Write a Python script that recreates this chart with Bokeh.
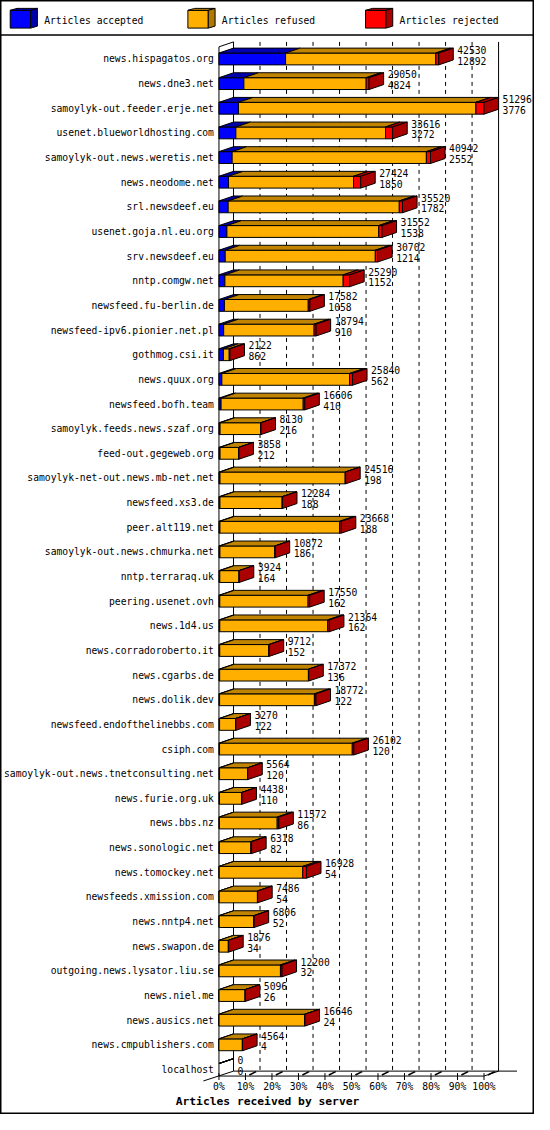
from bokeh.plotting import figure
from bokeh.models import Range1d, Span
from bokeh.embed import file_html
from bokeh.resources import INLINE
from bokeh.core.properties import value

# ---- data -------------------------------------------------------------
servers = [
    "news.hispagatos.org", "news.dne3.net", "samoylyk-out.feeder.erje.net",
    "usenet.blueworldhosting.com", "samoylyk-out.news.weretis.net", "news.neodome.net",
    "srl.newsdeef.eu", "usenet.goja.nl.eu.org", "srv.newsdeef.eu", "nntp.comgw.net",
    "newsfeed.fu-berlin.de", "newsfeed-ipv6.pionier.net.pl", "gothmog.csi.it",
    "news.quux.org", "newsfeed.bofh.team", "samoylyk.feeds.news.szaf.org",
    "feed-out.gegeweb.org", "samoylyk-net-out.news.mb-net.net", "newsfeed.xs3.de",
    "peer.alt119.net", "samoylyk-out.news.chmurka.net", "nntp.terraraq.uk",
    "peering.usenet.ovh", "news.1d4.us", "news.corradoroberto.it", "news.cgarbs.de",
    "news.dolik.dev", "newsfeed.endofthelinebbs.com", "csiph.com",
    "samoylyk-out.news.tnetconsulting.net", "news.furie.org.uk", "news.bbs.nz",
    "news.sonologic.net", "news.tomockey.net", "newsfeeds.xmission.com",
    "news.nntp4.net", "news.swapon.de", "outgoing.news.lysator.liu.se",
    "news.niel.me", "news.ausics.net", "news.cmpublishers.com", "localhost",
]
total = [42530, 29050, 51296, 33616, 40942, 27424, 35520, 31552, 30702, 25290,
         17582, 18794, 2122, 25840, 16606, 8130, 3858, 24516, 12284, 23668,
         10872, 3924, 17550, 21364, 9712, 17372, 18772, 3270, 26102, 5564,
         4438, 11572, 6318, 16928, 7486, 6806, 1876, 12200, 5096, 16646,
         4564, 0]
accepted = [12892, 4824, 3776, 3272, 2552, 1850, 1782, 1538, 1214, 1152,
            1058, 910, 862, 562, 410, 216, 212, 198, 188, 188,
            186, 164, 162, 162, 152, 136, 122, 122, 120, 120,
            110, 86, 82, 54, 54, 52, 34, 32, 26, 24,
            4, 0]
rejected = [560, 560, 1560, 1380, 800, 1380, 620, 620, 440, 1250,
            300, 380, 130, 560, 300, 40, 30, 90, 50, 300,
            50, 30, 300, 300, 50, 60, 300, 20, 300, 30,
            30, 300, 150, 700, 40, 60, 60, 300, 40, 60,
            40, 0]
refused = [t - a - r for t, a, r in zip(total, accepted, rejected)]

legend_labels = ["Articles accepted", "Articles refused", "Articles rejected"]
tick_pct = [0, 10, 20, 30, 40, 50, 60, 70, 80, 90, 100]
tick_labels = [f"{t}%" for t in tick_pct]
x_title = "Articles received by server"

face = ["#0000FF", "#FFAF00", "#FF0000"]
top = ["#0000B0", "#C08400", "#B00000"]
side = ["#0000A8", "#B07800", "#AA0000"]

# ---- layout (pixels of the original 550x1130 picture) -----------------
W, H = 550, 1130
X0, X100 = 225, 498          # front plane, 0% and 100%
ROW0, PITCH = 59.3, 25.0     # first row centre, row spacing
DX, DY = 15, 5               # 3d depth
BAR_H = 12
FONT = "DejaVu Sans Mono"
FS = "9.7px"

xmax = max(total)
k = (X100 - X0) / xmax       # px per article


def fx(px):
    return (px - X0) / k


def fy(px):
    return (px - ROW0) / PITCH


ddx = DX / k
ddy = DY / PITCH
hb = BAR_H / 2 / PITCH

p = figure(width=534, height=1114, x_range=Range1d(fx(0), fx(W)),
           y_range=Range1d(fy(H), fy(0)), x_axis_type=None, y_axis_type=None,
           toolbar_location=None, min_border=0, output_backend="svg")
p.outline_line_color = "black"
p.outline_line_width = 2
p.background_fill_color = "white"

# legend
p.add_layout(Span(location=fy(35), dimension="width", line_color="black", line_width=1.5))
for j, lab in enumerate(legend_labels):
    bx = 10 + 183 * j
    p.quad(left=fx(bx), right=fx(bx + 21), top=fy(10), bottom=fy(28),
           fill_color=face[j], line_color="black", line_width=1)
    p.patch([fx(bx), fx(bx + 21), fx(bx + 28), fx(bx + 7)],
            [fy(10), fy(10), fy(8), fy(8)], fill_color=top[j], line_color="black", line_width=1)
    p.patch([fx(bx + 21), fx(bx + 28), fx(bx + 28), fx(bx + 21)],
            [fy(10), fy(8), fy(26), fy(28)], fill_color=side[j], line_color="black", line_width=1)
    p.text(x=[fx(bx + 35)], y=[fy(20)], text=[lab], text_font=value(FONT), text_font_size=FS,
           text_baseline="middle", text_color="black")

# back plane
y_back_top, y_back_floor = fy(42), fy(1086)
y_front_top, y_front_floor = fy(47), fy(1091)
grid_x = [t / 100 * xmax + ddx for t in tick_pct[1:-1]]
p.segment(x0=grid_x, y0=[y_back_top] * len(grid_x), x1=grid_x, y1=[y_back_floor] * len(grid_x),
          line_color="black", line_width=1, line_dash="4 4")
p.segment(x0=[ddx, xmax + ddx], y0=[y_back_top] * 2, x1=[ddx, xmax + ddx], y1=[y_back_floor] * 2,
          line_color="black", line_width=1)
p.segment(x0=[ddx], y0=[y_back_floor], x1=[xmax + ddx + fx(19) - fx(0)], y1=[y_back_floor],
          line_color="black", line_width=1)
# left wall and floor edges
p.segment(x0=[0, 0, xmax, fx(209), 0], y0=[y_front_top, y_front_top, y_front_floor, fy(1096), y_front_floor],
          x1=[0, ddx, xmax + ddx, ddx, xmax], y1=[y_front_floor, y_back_top, y_back_floor, y_back_floor, y_front_floor],
          line_color="black", line_width=1)

# ticks on the floor
tick_x = [t / 100 * xmax for t in tick_pct]
p.segment(x0=tick_x, y0=[fy(1088)] * len(tick_x), x1=tick_x, y1=[fy(1095)] * len(tick_x),
          line_color="black", line_width=1)
sx0 = [x + 4 / k for x in tick_x[1:]]
sx1 = [x + 11 / k for x in tick_x[1:]]
p.segment(x0=sx0, y0=[fy(1090)] * len(sx0), x1=sx1, y1=[fy(1086.5)] * len(sx0),
          line_color="black", line_width=1.6)
p.text(x=tick_x, y=[fy(1102)] * len(tick_x), text=tick_labels, text_font=value(FONT),
       text_font_size=FS, text_align="center", text_baseline="middle", text_color="black")
p.text(x=[fx(275)], y=[fy(1117)], text=[x_title], text_font=value(FONT), text_font_size="11.3px",
       text_font_style="bold", text_align="center", text_baseline="middle", text_color="black")

# bars
rows = list(range(len(servers)))
left = [0.0] * len(rows)
for j, seg in enumerate([accepted, refused, rejected]):
    right = [l + s for l, s in zip(left, seg)]
    yt = [r - hb for r in rows]
    yb = [r + hb for r in rows]
    keep = [i for i in rows if total[i] > 0]
    p.quad(left=[left[i] for i in keep], right=[right[i] for i in keep],
           top=[yt[i] for i in keep], bottom=[yb[i] for i in keep],
           fill_color=face[j], line_color="black", line_width=1)
    p.patches([[left[i], right[i], right[i] + ddx, left[i] + ddx] for i in rows],
              [[yt[i], yt[i], yt[i] - ddy, yt[i] - ddy] for i in rows],
              fill_color=top[j], line_color="black", line_width=1)
    if j == 2:
        p.patches([[right[i], right[i] + ddx, right[i] + ddx, right[i]] for i in keep],
                  [[yt[i], yt[i] - ddy, yb[i] - ddy, yb[i]] for i in keep],
                  fill_color=side[j], line_color="black", line_width=1)
    left = right

# labels
p.text(x=[0] * len(rows), y=rows, text=servers, x_offset=-5, text_font=value(FONT),
       text_font_size=FS, text_align="right", text_baseline="middle", text_color="black")
lab_x = [t + ddx for t in total]
p.text(x=lab_x, y=[r - 9.4 / PITCH for r in rows], text=[str(t) for t in total], x_offset=4,
       text_font=value(FONT), text_font_size=FS, text_baseline="middle", text_color="black")
p.text(x=lab_x, y=[r + 1.6 / PITCH for r in rows], text=[str(a) for a in accepted], x_offset=4,
       text_font=value(FONT), text_font_size=FS, text_baseline="middle", text_color="black")

open("out.html", "w").write(file_html(p, INLINE))
